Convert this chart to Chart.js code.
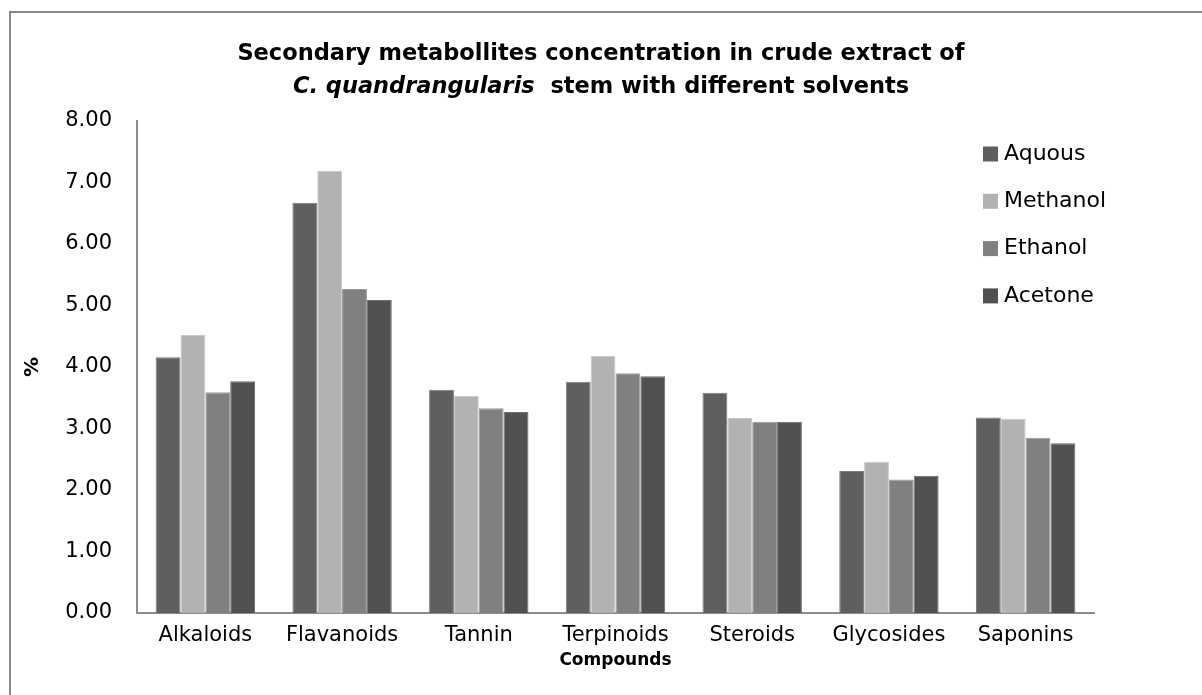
<!DOCTYPE html>
<html>
<head>
<meta charset="utf-8">
<script src="https://cdn.jsdelivr.net/npm/chart.js@4.4.0/dist/chart.umd.min.js"></script>
<style>
  body { margin: 0; background: #fff; }
  #wrap { width: 1202px; height: 695px; position: relative; }
</style>
</head>
<body>
<div id="wrap"><canvas id="barChart"></canvas></div>
<script>
const compounds = ["Alkaloids", "Flavanoids", "Tannin", "Terpinoids", "Steroids", "Glycosides", "Saponins"];
const aquous   = [4.16, 6.67, 3.63, 3.76, 3.58, 2.31, 3.18];
const methanol = [4.52, 7.19, 3.53, 4.18, 3.17, 2.46, 3.16];
const ethanol  = [3.59, 5.27, 3.33, 3.90, 3.11, 2.17, 2.85];
const acetone  = [3.77, 5.09, 3.27, 3.85, 3.11, 2.23, 2.76];
const yTicks = [0, 1, 2, 3, 4, 5, 6, 7, 8];

const FONT = "'DejaVu Sans', sans-serif";
const TITLE_FONT = "22.5px 'DejaVu Sans', sans-serif";

// outer frame + two line title with the italic species name
const framePlugin = {
  id: "frame",
  beforeDraw(chart) {
    const ctx = chart.ctx;
    ctx.save();
    ctx.fillStyle = "#fff";
    ctx.fillRect(0, 0, chart.width, chart.height);
    ctx.strokeStyle = "#888";
    ctx.lineWidth = 2;
    ctx.strokeRect(10, 12, chart.width, chart.height);
    ctx.restore();
  },
  afterDraw(chart) {
    const ctx = chart.ctx;
    const cx = 601;
    ctx.save();
    ctx.fillStyle = "#000";
    ctx.textBaseline = "middle";
    ctx.textAlign = "left";
    ctx.font = "bold " + TITLE_FONT;
    const line1 = "Secondary metabollites concentration in crude extract of";
    let w = ctx.measureText(line1).width;
    ctx.fillText(line1, cx - w / 2, 54);

    const partA = "C. quandrangularis";
    const partB = "  stem with different solvents";
    ctx.font = "italic bold " + TITLE_FONT;
    const wa = ctx.measureText(partA).width;
    ctx.font = "bold " + TITLE_FONT;
    const wb = ctx.measureText(partB).width;
    let x = cx - (wa + wb) / 2;
    ctx.font = "italic bold " + TITLE_FONT;
    ctx.fillText(partA, x, 87);
    ctx.font = "bold " + TITLE_FONT;
    ctx.fillText(partB, x + wa, 87);

    // legend, stacked at the right inside the plot
    ctx.font = "22px " + FONT;
    chart.data.datasets.forEach(function (ds, i) {
      const y = 154 + i * 47.3;
      ctx.fillStyle = ds.backgroundColor;
      ctx.fillRect(983, y - 7.5, 15, 15);
      ctx.fillStyle = "#000";
      ctx.fillText(ds.label, 1004, y);
    });
    ctx.restore();
  }
};

const data = {
  labels: compounds,
  datasets: [
    { label: "Aquous",   data: aquous,   backgroundColor: "#5f5f5f", borderColor: "#7a7a7a" },
    { label: "Methanol", data: methanol, backgroundColor: "#b2b2b2", borderColor: "#cacaca" },
    { label: "Ethanol",  data: ethanol,  backgroundColor: "#808080", borderColor: "#9a9a9a" },
    { label: "Acetone",  data: acetone,  backgroundColor: "#505050", borderColor: "#6c6c6c" }
  ]
};
data.datasets.forEach(function (ds) {
  ds.borderWidth = 1;
  ds.categoryPercentage = 0.727;
  ds.barPercentage = 1.0;
});

const config = {
  type: "bar",
  data: data,
  plugins: [framePlugin],
  options: {
    responsive: true,
    maintainAspectRatio: false,
    animation: false,
    layout: { padding: { left: 12, right: 108, top: 121, bottom: 0 } },
    plugins: {
      legend: { display: false },
      title: { display: false },
      tooltip: { enabled: false }
    },
    scales: {
      x: {
        grid: { display: false, drawTicks: false },
        border: { display: true, color: "#8c8c8c", width: 2 },
        ticks: { color: "#000", font: { family: FONT, size: 21 }, padding: 10, maxRotation: 0, autoSkip: false },
        title: { display: true, text: "Compounds", color: "#000", font: { family: FONT, size: 17, weight: "bold" }, padding: { top: 0, bottom: 24 } },
        afterFit(scale) { scale.height = 82; }
      },
      y: {
        min: 0,
        max: 8,
        afterBuildTicks(scale) { scale.ticks = yTicks.map(function (v) { return { value: v }; }); },
        grid: { display: false, drawTicks: false },
        border: { display: true, color: "#8c8c8c", width: 2 },
        ticks: { color: "#000", font: { family: FONT, size: 21 }, padding: 25, callback: function (v) { return Number(v).toFixed(2); } },
        title: { display: true, text: "%", color: "#000", font: { family: FONT, size: 20, weight: "bold" }, padding: { top: 9, bottom: 0 } },
        afterFit(scale) { scale.width = 125; }
      }
    }
  }
};

const barChart = new Chart(document.getElementById("barChart"), config);
</script>
</body>
</html>
